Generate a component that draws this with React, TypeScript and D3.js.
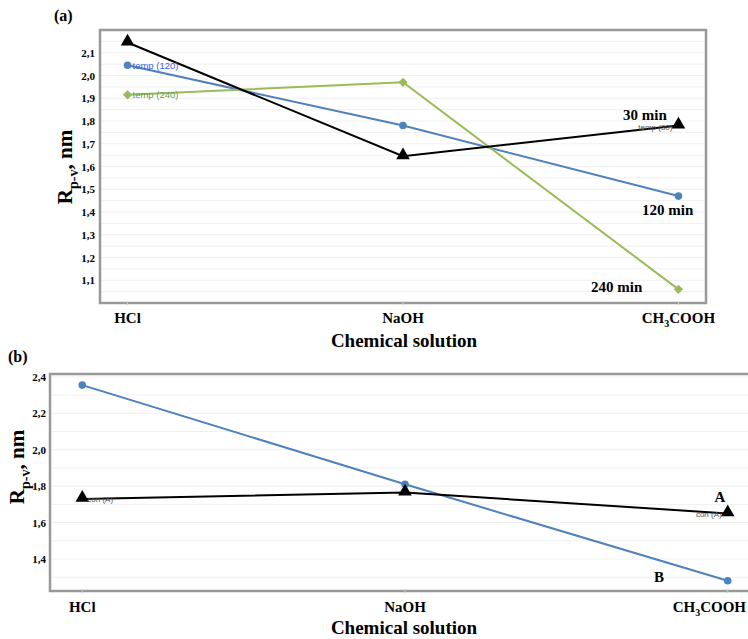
import React from "react";
import * as d3 from "d3";

const categories = ["HCl", "NaOH", "CH3COOH"];

// panel (a): temperature series
const temp30 = [2.145, 1.645, 1.78];
const temp120 = [2.045, 1.78, 1.47];
const temp240 = [1.915, 1.97, 1.06];
const ticksA = [1.1, 1.2, 1.3, 1.4, 1.5, 1.6, 1.7, 1.8, 1.9, 2.0, 2.1];

// panel (b): concentration series
const conA = [1.73, 1.765, 1.65];
const conB = [2.355, 1.81, 1.28];
const ticksB = [1.4, 1.6, 1.8, 2.0, 2.2, 2.4];

const SERIF = "'Liberation Serif', 'Times New Roman', serif";
const SANS = "'Liberation Sans', Arial, sans-serif";
const BLUE = "#4f81bd";
const GREEN = "#9bbb59";

const fmt = (v: number) => v.toFixed(1).replace(".", ",");

const triangle = d3.symbol().type(d3.symbolTriangle).size(80)();
const diamond = d3.symbol().type(d3.symbolDiamond2).size(55)();

function CatLabel({ name, x, y, anchor = "middle" }: { name: string; x: number; y: number; anchor?: string }) {
  if (name === "CH3COOH") {
    return (
      <text x={x} y={y} textAnchor={anchor} fontFamily={SERIF} fontWeight="bold" fontSize={15}>
        CH<tspan fontSize={10} dy={4}>3</tspan>
        <tspan dy={-4}>COOH</tspan>
      </text>
    );
  }
  return (
    <text x={x} y={y} textAnchor={anchor} fontFamily={SERIF} fontWeight="bold" fontSize={15}>
      {name}
    </text>
  );
}

function YLabel({ x, y }: { x: number; y: number }) {
  return (
    <text transform={`translate(${x},${y}) rotate(-90)`} textAnchor="middle"
      fontFamily={SERIF} fontWeight="bold" fontSize={21}>
      R<tspan fontSize={14} dy={6}>p-v</tspan>
      <tspan dy={-6}>, nm</tspan>
    </text>
  );
}

export default function App() {
  const W = 748, H = 639;

  // panel a scales
  const xA = d3.scalePoint().domain(categories).range([100, 706]).padding(0.1);
  const yA = d3.scaleLinear().domain([1.0, 2.2]).range([303, 30]);
  const gridA = d3.range(1.05, 2.2, 0.05);

  // panel b scales
  const xB = d3.scalePoint().domain(categories).range([50, 760]).padding(0.1);
  const yB = d3.scaleLinear().domain([1.224, 2.416]).range([591, 374]);
  const gridB = d3.range(1.3, 2.45, 0.1);

  const lineA = (vals: number[]) =>
    d3.line<number>().x((_, i) => xA(categories[i])!).y((d) => yA(d))(vals)!;
  const lineB = (vals: number[]) =>
    d3.line<number>().x((_, i) => xB(categories[i])!).y((d) => yB(d))(vals)!;

  return (
    <svg width={W} height={H} style={{ position: "absolute", left: 0, top: 0, background: "#fff" }}>
      {/* ---------- panel (a) ---------- */}
      <text x={54} y={21} fontFamily={SERIF} fontWeight="bold" fontSize={16}>(a)</text>
      {gridA.map((g, i) => (
        <line key={i} x1={101} x2={705} y1={yA(g)} y2={yA(g)} stroke="#f0f0f0" strokeWidth={1} />
      ))}
      <rect x={100} y={30} width={606} height={273} fill="none" stroke="#999" strokeWidth={2.5} />
      {ticksA.map((t) => (
        <text key={t} x={95} y={yA(t) + 4} textAnchor="end" fontFamily={SERIF} fontWeight="bold" fontSize={11}>
          {fmt(t)}
        </text>
      ))}
      {categories.map((c) => (
        <line key={c} x1={xA(c)} x2={xA(c)} y1={301} y2={305} stroke="#ccc" />
      ))}
      <path d={lineA(temp120)} fill="none" stroke={BLUE} strokeWidth={2} />
      <path d={lineA(temp240)} fill="none" stroke={GREEN} strokeWidth={2} />
      <path d={lineA(temp30)} fill="none" stroke="#000" strokeWidth={2} />
      {temp120.map((v, i) => (
        <circle key={i} cx={xA(categories[i])} cy={yA(v)} r={3.8} fill={BLUE} />
      ))}
      {temp240.map((v, i) => (
        <path key={i} d={diamond} transform={`translate(${xA(categories[i])},${yA(v)})`} fill={GREEN} />
      ))}
      {temp30.map((v, i) => (
        <path key={i} d={triangle} transform={`translate(${xA(categories[i])},${yA(v) - 1})`} fill="#000" />
      ))}
      <text x={xA("HCl")! + 5} y={yA(temp120[0]) + 3.5} fontFamily={SANS} fontSize={9.5} fill="#3c5fe6">temp (120)</text>
      <text x={xA("HCl")! + 5} y={yA(temp240[0]) + 3.5} fontFamily={SANS} fontSize={9.5} fill="#5aa35a">temp (240)</text>
      <text x={xA("CH3COOH")! - 6} y={yA(temp30[2]) + 4} textAnchor="end" fontFamily={SANS} fontSize={8} fill="#555">temp (30)</text>
      <text x={623} y={120} fontFamily={SERIF} fontWeight="bold" fontSize={15}>30 min</text>
      <text x={642} y={215} fontFamily={SERIF} fontWeight="bold" fontSize={15}>120 min</text>
      <text x={591} y={292} fontFamily={SERIF} fontWeight="bold" fontSize={15}>240 min</text>
      <YLabel x={72} y={167} />
      {categories.map((c) => (
        <CatLabel key={c} name={c} x={xA(c)!} y={323} />
      ))}
      <text x={404} y={347} textAnchor="middle" fontFamily={SERIF} fontWeight="bold" fontSize={19}>Chemical solution</text>

      {/* ---------- panel (b) ---------- */}
      <text x={8} y={362} fontFamily={SERIF} fontWeight="bold" fontSize={16}>(b)</text>
      {gridB.map((g, i) => (
        <line key={i} x1={51} x2={748} y1={yB(g)} y2={yB(g)} stroke="#f0f0f0" strokeWidth={1} />
      ))}
      <path d="M760,374 H50 V591 H760" fill="none" stroke="#999" strokeWidth={2.5} />
      {ticksB.map((t) => (
        <text key={t} x={46} y={yB(t) + 4} textAnchor="end" fontFamily={SERIF} fontWeight="bold" fontSize={11}>
          {fmt(t)}
        </text>
      ))}
      {categories.map((c) => (
        <line key={c} x1={xB(c)} x2={xB(c)} y1={589} y2={593} stroke="#ccc" />
      ))}
      <path d={lineB(conB)} fill="none" stroke={BLUE} strokeWidth={2} />
      <path d={lineB(conA)} fill="none" stroke="#000" strokeWidth={2} />
      {conB.map((v, i) => (
        <circle key={i} cx={xB(categories[i])} cy={yB(v)} r={3.8} fill={BLUE} />
      ))}
      {conA.map((v, i) => (
        <path key={i} d={triangle} transform={`translate(${xB(categories[i])},${yB(v) - 1})`} fill="#000" />
      ))}
      <text x={xB("HCl")! + 5} y={yB(conA[0]) + 3} fontFamily={SANS} fontSize={8} fill="#555">con (A)</text>
      <text x={xB("CH3COOH")! - 6} y={yB(conA[2]) + 4} textAnchor="end" fontFamily={SANS} fontSize={8} fill="#555">con (A)</text>
      <text x={720} y={502} textAnchor="middle" fontFamily={SERIF} fontWeight="bold" fontSize={15}>A</text>
      <text x={659} y={582} textAnchor="middle" fontFamily={SERIF} fontWeight="bold" fontSize={15}>B</text>
      <YLabel x={24} y={467} />
      {categories.map((c, i) => (
        i === 2
          ? <CatLabel key={c} name={c} x={746} y={612} anchor="end" />
          : <CatLabel key={c} name={c} x={xB(c)!} y={612} />
      ))}
      <text x={404} y={634} textAnchor="middle" fontFamily={SERIF} fontWeight="bold" fontSize={19}>Chemical solution</text>
    </svg>
  );
}
